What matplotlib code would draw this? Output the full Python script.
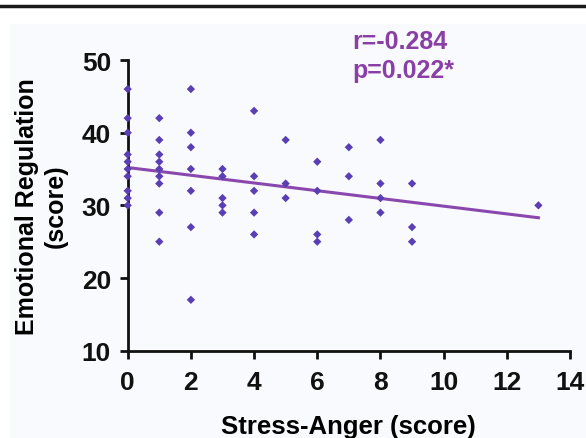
import numpy as np
import matplotlib
matplotlib.use('Agg')
import matplotlib.pyplot as plt
from matplotlib.lines import Line2D
from matplotlib.patches import Rectangle

plt.rcParams['font.family'] = ['Liberation Sans', 'DejaVu Sans']

# stress-anger score (x) and emotional regulation score (y)
stress = [0]*10 + [1]*9 + [2]*7 + [3]*5 + [4]*5 + [5]*3 + [6]*4 + [7]*3 + [8]*4 + [9]*3 + [13]
emo = [46, 42, 40, 37, 36, 35, 34, 32, 31, 30,
       42, 39, 37, 36, 35, 34, 33, 29, 25,
       46, 40, 38, 35, 32, 27, 17,
       35, 34, 31, 30, 29,
       43, 34, 32, 29, 26,
       39, 33, 31,
       36, 32, 26, 25,
       38, 34, 28,
       39, 33, 31, 29,
       33, 27, 25,
       30]
stats_text = ['r=-0.284', 'p=0.022*']

x = np.array(stress, dtype=float)
y = np.array(emo, dtype=float)
slope, intercept = np.polyfit(x, y, 1)
xl = np.array([x.min(), x.max()])

fig = plt.figure(figsize=(5.86, 4.39), dpi=100)
fig.patch.set_facecolor('white')
fig.add_artist(Rectangle((10/586, 0), 1, 1 - 25/439, transform=fig.transFigure,
                         facecolor='#f9fafd', edgecolor='none', zorder=-10))
fig.add_artist(Line2D([0, 1], [1 - 6.5/439, 1 - 6.5/439], transform=fig.transFigure,
                      color='#1a1a1a', lw=2.5))

ax = fig.add_axes([127.7/586, 1 - 351.7/439, (570 - 127.7)/586, (351.7 - 61)/439])
ax.set_facecolor('none')
ax.scatter(x, y, marker='D', s=18, color='#5a3fb4', edgecolors='none', zorder=3,
           clip_on=False)
ax.plot(xl, intercept + slope*xl, color='#8a48ae', lw=2.2, zorder=2)

ax.set_xlim(0, 14)
ax.set_ylim(10, 50)
ax.set_xticks(range(0, 15, 2))
ax.set_yticks(range(10, 51, 10))
for s in ['top', 'right']:
    ax.spines[s].set_visible(False)
for s in ['left', 'bottom']:
    ax.spines[s].set_linewidth(2)
    ax.spines[s].set_color('#111111')
ax.tick_params(direction='out', length=6, width=2, colors='#111111', labelsize=19)
ax.tick_params(axis='x', pad=8)
ax.tick_params(axis='y', pad=6)
for lbl in ax.get_xticklabels() + ax.get_yticklabels():
    lbl.set_fontweight('bold')
ax.set_xlabel('Stress-Anger (score)', fontsize=18.5, fontweight='bold', labelpad=14)
ax.set_ylabel('Emotional Regulation\n(score)', fontsize=18, fontweight='bold', labelpad=10,
              linespacing=1.25)

fig.text(352/586, 1 - 42/439, stats_text[0], color='#8a3fa6', fontsize=18,
         fontweight='bold', va='center', ha='left')
fig.text(352/586, 1 - 71/439, stats_text[1], color='#8a3fa6', fontsize=18,
         fontweight='bold', va='center', ha='left')

fig.savefig('out.png', dpi=100, facecolor=fig.get_facecolor())
